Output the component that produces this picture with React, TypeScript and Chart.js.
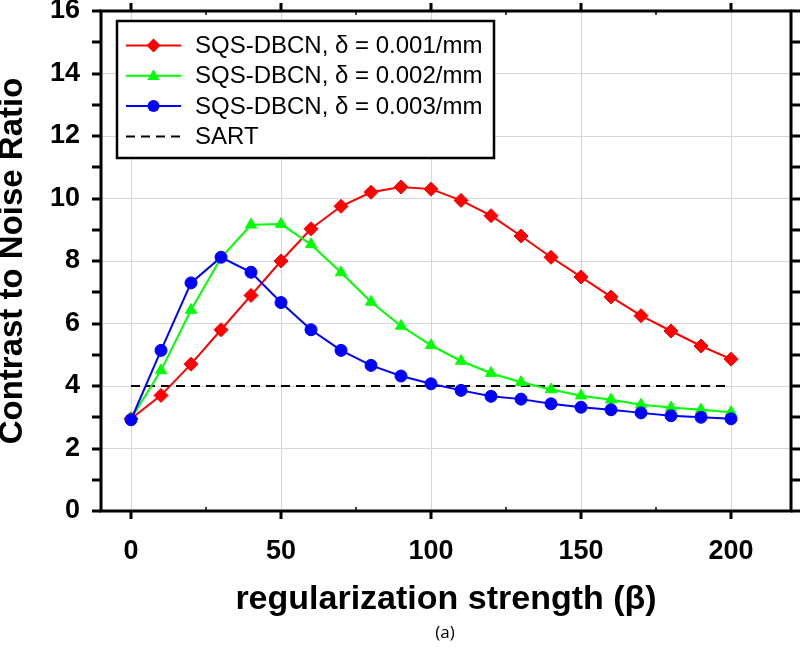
import React, { useEffect, useRef } from 'react';
import { Chart, registerables } from 'chart.js';

Chart.register(...registerables);

// ---- data ----
const betaValues = [0, 10, 20, 30, 40, 50, 60, 70, 80, 90, 100, 110, 120, 130, 140, 150, 160, 170, 180, 190, 200];
const cnrDelta001 = [2.95, 3.7, 4.7, 5.8, 6.9, 8.0, 9.03, 9.75, 10.2, 10.37, 10.3, 9.94, 9.45, 8.8, 8.12, 7.49, 6.85, 6.25, 5.76, 5.28, 4.86];
const cnrDelta002 = [2.95, 4.5, 6.43, 8.1, 9.16, 9.18, 8.53, 7.63, 6.69, 5.92, 5.3, 4.8, 4.41, 4.12, 3.89, 3.69, 3.56, 3.4, 3.31, 3.24, 3.16];
const cnrDelta003 = [2.92, 5.14, 7.3, 8.12, 7.64, 6.67, 5.8, 5.14, 4.66, 4.32, 4.07, 3.86, 3.67, 3.58, 3.43, 3.32, 3.24, 3.14, 3.05, 3.0, 2.95];
const sartBeta = [0, 200];
const sartCnr = [4, 4];

const seriesLabels = [
  'SQS-DBCN, \u03b4 = 0.001/mm',
  'SQS-DBCN, \u03b4 = 0.002/mm',
  'SQS-DBCN, \u03b4 = 0.003/mm',
  'SART',
];

const xTickValues = [0, 50, 100, 150, 200];
const xMinorTickValues = [25, 75, 125, 175];
const yTickValues = [0, 2, 4, 6, 8, 10, 12, 14, 16];
const yMinorTickValues = [1, 3, 5, 7, 9, 11, 13, 15];

const xTitle = 'regularization strength (\u03b2)';
const yTitle = 'Contrast to Noise Ratio';
const captionText = '(a)';

const FONT = "'Liberation Sans', Arial, Helvetica, sans-serif";

function toXY(xs: number[], ys: number[]) {
  return xs.map((x, i) => ({ x, y: ys[i] }));
}

function drawMarker(ctx: CanvasRenderingContext2D, style: string, x: number, y: number, r: number, color: string) {
  ctx.save();
  ctx.fillStyle = color;
  ctx.strokeStyle = color;
  ctx.beginPath();
  if (style === 'rectRot') {
    ctx.moveTo(x, y - r);
    ctx.lineTo(x + r, y);
    ctx.lineTo(x, y + r);
    ctx.lineTo(x - r, y);
    ctx.closePath();
  } else if (style === 'triangle') {
    ctx.moveTo(x, y - r);
    ctx.lineTo(x + r * 0.95, y + r * 0.65);
    ctx.lineTo(x - r * 0.95, y + r * 0.65);
    ctx.closePath();
  } else {
    ctx.arc(x, y, r, 0, Math.PI * 2);
  }
  ctx.fill();
  ctx.restore();
}

const framePlugin = {
  id: 'frameAndLegend',
  afterDraw(chart: any) {
    const ctx: CanvasRenderingContext2D = chart.ctx;
    const { left, right, top, bottom } = chart.chartArea;
    const xs = chart.scales.x;
    const ys = chart.scales.y;
    ctx.save();
    // frame
    ctx.strokeStyle = '#000';
    ctx.lineWidth = 3;
    ctx.strokeRect(left, top, right - left, bottom - top);
    // y ticks (outward on both sides)
    ctx.lineWidth = 3;
    [...yTickValues, ...yMinorTickValues].forEach((v) => {
      const py = Math.round(ys.getPixelForValue(v));
      ctx.beginPath();
      ctx.moveTo(left - 9, py);
      ctx.lineTo(left, py);
      ctx.moveTo(right, py);
      ctx.lineTo(right + 9, py);
      ctx.stroke();
    });
    // x major ticks outward
    xTickValues.forEach((v) => {
      const px = Math.round(xs.getPixelForValue(v));
      ctx.beginPath();
      ctx.moveTo(px, bottom);
      ctx.lineTo(px, bottom + 8);
      ctx.moveTo(px, top);
      ctx.lineTo(px, top - 8);
      ctx.stroke();
    });
    // x minor ticks inward
    ctx.lineWidth = 1.5;
    xMinorTickValues.forEach((v) => {
      const px = Math.round(xs.getPixelForValue(v));
      ctx.beginPath();
      ctx.moveTo(px, bottom);
      ctx.lineTo(px, bottom - 4);
      ctx.moveTo(px, top);
      ctx.lineTo(px, top + 4);
      ctx.stroke();
    });

    // legend box
    const bx = 117, by = 21, bw = 377, bh = 137;
    ctx.fillStyle = '#fff';
    ctx.fillRect(bx, by, bw, bh);
    ctx.lineWidth = 2.5;
    ctx.strokeStyle = '#000';
    ctx.strokeRect(bx, by, bw, bh);
    const rowY0 = 45.5;
    const rowStep = 30.3;
    chart.data.datasets.forEach((ds: any, i: number) => {
      const cy = rowY0 + i * rowStep;
      ctx.save();
      ctx.strokeStyle = ds.borderColor;
      ctx.lineWidth = 2;
      if (ds.borderDash) ctx.setLineDash(ds.borderDash);
      ctx.beginPath();
      ctx.moveTo(126, cy);
      ctx.lineTo(181, cy);
      ctx.stroke();
      ctx.restore();
      if (ds.pointRadius > 0) {
        drawMarker(ctx, ds.pointStyle, 153.5, cy, ds.pointRadius, ds.borderColor);
      }
      ctx.fillStyle = '#000';
      ctx.font = `24px ${FONT}`;
      ctx.textBaseline = 'middle';
      ctx.textAlign = 'left';
      ctx.fillText(ds.label, 195, cy + 1);
    });

    // caption
    ctx.fillStyle = '#000';
    ctx.font = `17px 'Open Sans', ${FONT}`;
    ctx.textAlign = 'center';
    ctx.textBaseline = 'middle';
    ctx.fillText(captionText, 445, 633);
    ctx.restore();
  },
};

export default function App() {
  const canvasRef = useRef<HTMLCanvasElement | null>(null);

  useEffect(() => {
    document.body.style.margin = '0';
    const canvas = canvasRef.current;
    if (!canvas) return;
    const chart = new Chart(canvas, {
      type: 'line',
      data: {
        datasets: [
          {
            label: seriesLabels[0],
            data: toXY(betaValues, cnrDelta001),
            borderColor: '#ff0000',
            backgroundColor: '#ff0000',
            borderWidth: 2,
            pointStyle: 'rectRot',
            pointRadius: 7,
            pointBorderWidth: 1,
            order: 2,
          },
          {
            label: seriesLabels[1],
            data: toXY(betaValues, cnrDelta002),
            borderColor: '#00ff00',
            backgroundColor: '#00ff00',
            borderWidth: 2,
            pointStyle: 'triangle',
            pointRadius: 6.5,
            pointBorderWidth: 1,
            order: 1,
          },
          {
            label: seriesLabels[2],
            data: toXY(betaValues, cnrDelta003),
            borderColor: '#0000ff',
            backgroundColor: '#0000ff',
            borderWidth: 2,
            pointStyle: 'circle',
            pointRadius: 6,
            pointBorderWidth: 1,
            order: 0,
          },
          {
            label: seriesLabels[3],
            data: toXY(sartBeta, sartCnr),
            borderColor: '#000000',
            backgroundColor: '#000000',
            borderWidth: 2,
            borderDash: [9, 6],
            pointRadius: 0,
            order: 3,
          },
        ],
      },
      options: {
        responsive: false,
        animation: false,
        devicePixelRatio: 1,
        layout: { padding: { top: 11, right: 9, left: 0, bottom: 0 } },
        plugins: {
          legend: { display: false },
          tooltip: { enabled: false },
        },
        elements: { line: { tension: 0 } },
        scales: {
          x: {
            type: 'linear',
            min: -10,
            max: 220,
            afterBuildTicks: (s: any) => {
              s.ticks = xTickValues.map((v) => ({ value: v }));
            },
            afterFit: (s: any) => {
              s.height = 144;
              s.paddingLeft = 0;
              s.paddingRight = 0;
              s.paddingTop = 0;
              s.paddingBottom = 0;
            },
            border: { display: false },
            grid: { color: '#d6d6d6', lineWidth: 1, drawTicks: false },
            ticks: {
              color: '#000',
              padding: 24,
              maxRotation: 0,
              font: { family: FONT, size: 27, weight: 'bold' },
            },
            title: {
              display: true,
              text: xTitle,
              color: '#000',
              font: { family: FONT, size: 34, weight: 'bold' },
              padding: { top: 0, bottom: 35 },
            },
          },
          y: {
            type: 'linear',
            min: 0,
            max: 16,
            afterBuildTicks: (s: any) => {
              s.ticks = yTickValues.map((v) => ({ value: v }));
            },
            afterFit: (s: any) => {
              s.width = 101;
              s.paddingLeft = 0;
              s.paddingRight = 0;
              s.paddingTop = 0;
              s.paddingBottom = 0;
            },
            border: { display: false },
            grid: { color: '#d6d6d6', lineWidth: 1, drawTicks: false },
            ticks: {
              color: '#000',
              padding: 21,
              font: { family: FONT, size: 27, weight: 'bold' },
            },
            title: {
              display: true,
              text: yTitle,
              color: '#000',
              font: { family: FONT, size: 33, weight: 'bold', lineHeight: 0.8 },
              padding: { top: 0, bottom: 0 },
            },
          },
        },
      },
      plugins: [framePlugin],
    } as any);
    return () => chart.destroy();
  }, []);

  return <canvas ref={canvasRef} width={800} height={655} style={{ display: 'block' }} />;
}
